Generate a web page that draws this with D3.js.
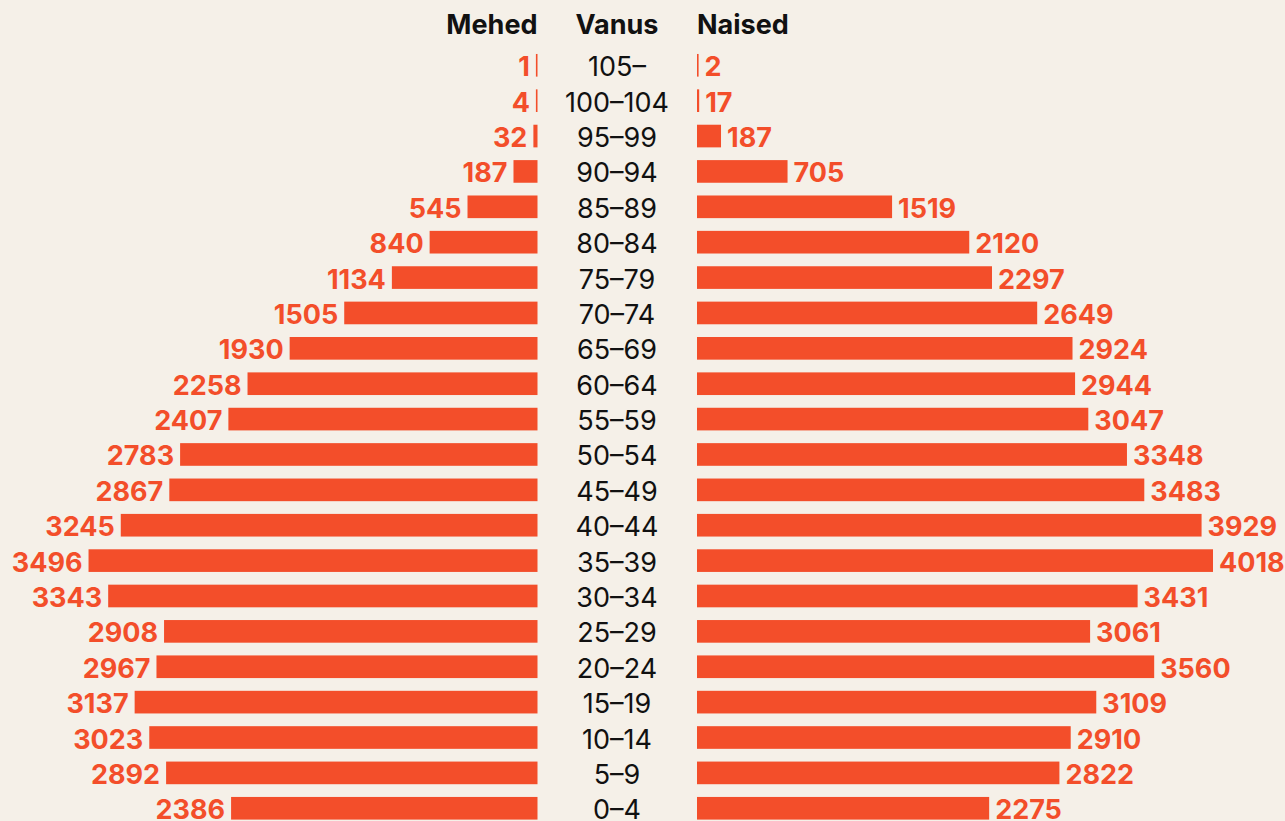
<!DOCTYPE html>
<html>
<head>
<meta charset="utf-8">
<script src="https://cdn.jsdelivr.net/npm/d3@7"></script>
<style>
  html, body { margin: 0; padding: 0; background: #f5f0e8; }
  svg { display: block; font-family: Inter, "Noto Sans", sans-serif; }
</style>
</head>
<body>
<svg id="chart" width="1285" height="821"></svg>
<script>
const ages = ['105–', '100–104', '95–99', '90–94', '85–89', '80–84', '75–79', '70–74', '65–69', '60–64', '55–59',
  '50–54', '45–49', '40–44', '35–39', '30–34', '25–29', '20–24', '15–19', '10–14', '5–9', '0–4'];
const men = [1, 4, 32, 187, 545, 840, 1134, 1505, 1930, 2258, 2407, 2783, 2867, 3245, 3496, 3343, 2908, 2967, 3137, 3023, 2892, 2386];
const women = [2, 17, 187, 705, 1519, 2120, 2297, 2649, 2924, 2944, 3047, 3348, 3483, 3929, 4018, 3431, 3061, 3560, 3109, 2910, 2822, 2275];
const headers = { left: 'Mehed', center: 'Vanus', right: 'Naised' };

const BAR = '#f34e2a';
const INK = '#111';
const FS = 27;
const leftEdge = 537.5, rightEdge = 697, centerX = 617;

const svg = d3.select('#chart');

const y = d3.scaleBand().domain(ages).range([47.6, 47.6 + 35.38 * ages.length]).paddingInner(0.36).paddingOuter(0.18);
const w = d3.scaleLinear().domain([0, 4018]).range([0, 516]);
const barW = v => Math.max(1.6, w(v));

const rows = ages.map((age, i) => ({ age, m: men[i], f: women[i] }));

// headers
const head = svg.append('g').attr('font-weight', 700).attr('font-size', FS).attr('fill', INK);
head.append('text').attr('x', leftEdge).attr('y', 34).attr('text-anchor', 'end').text(headers.left);
head.append('text').attr('x', centerX).attr('y', 34).attr('text-anchor', 'middle').text(headers.center);
head.append('text').attr('x', rightEdge).attr('y', 34).attr('text-anchor', 'start').text(headers.right);

const row = svg.append('g').selectAll('g.row').data(rows).join('g')
  .attr('class', 'row')
  .attr('transform', d => `translate(0,${y(d.age)})`);

const bh = y.bandwidth();
const base = bh / 2 + 11;

row.append('rect').attr('x', d => leftEdge - barW(d.m)).attr('width', d => barW(d.m)).attr('height', bh).attr('fill', BAR);
row.append('rect').attr('x', rightEdge).attr('width', d => barW(d.f)).attr('height', bh).attr('fill', BAR);

row.append('text').attr('x', d => leftEdge - barW(d.m) - 6).attr('y', base)
  .attr('text-anchor', 'end').attr('font-size', FS).attr('font-weight', 700).attr('fill', BAR)
  .text(d => d.m);
row.append('text').attr('x', d => rightEdge + barW(d.f) + 6).attr('y', base)
  .attr('text-anchor', 'start').attr('font-size', FS).attr('font-weight', 700).attr('fill', BAR)
  .text(d => d.f);
row.append('text').attr('x', centerX).attr('y', base)
  .attr('text-anchor', 'middle').attr('font-size', FS).attr('fill', INK)
  .text(d => d.age);
</script>
</body>
</html>
